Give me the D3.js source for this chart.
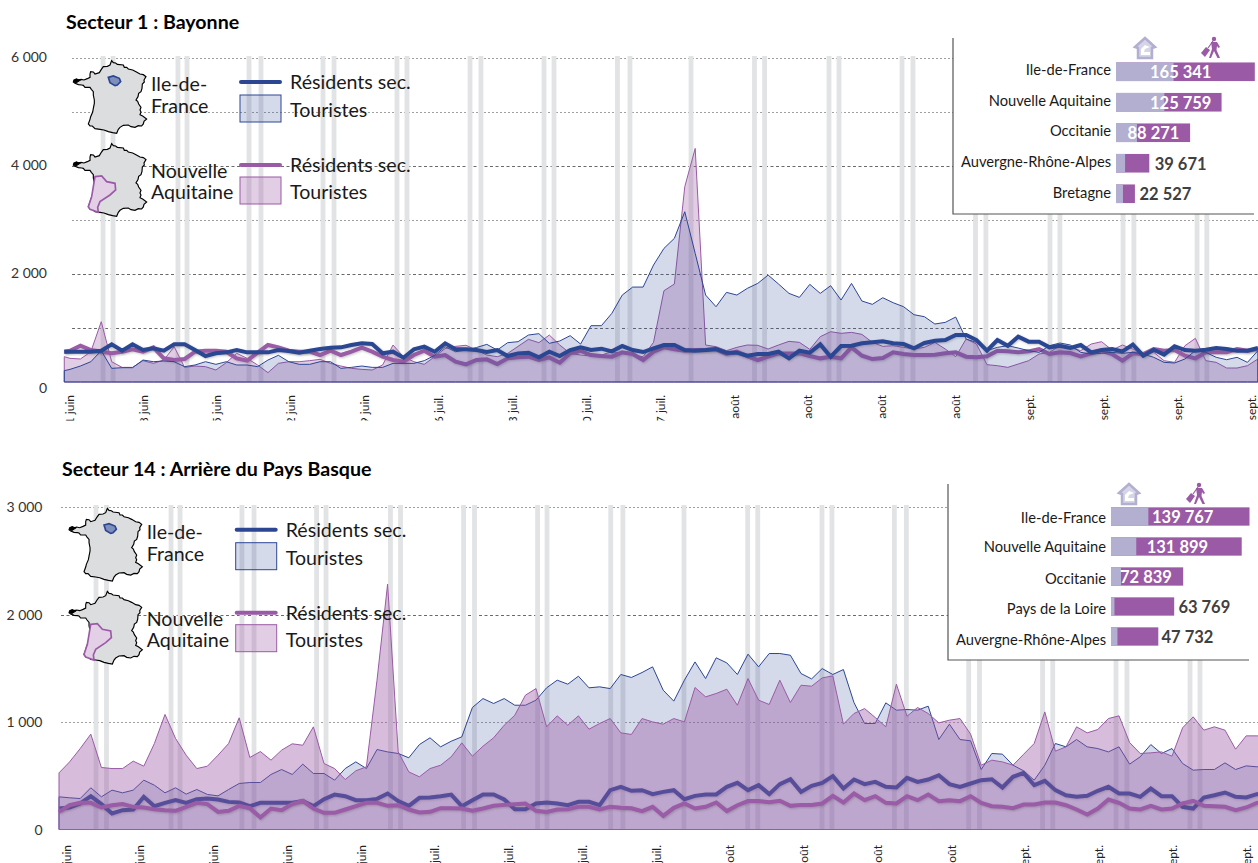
<!DOCTYPE html>
<html>
<head>
<meta charset="utf-8">
<script src="https://cdn.jsdelivr.net/npm/d3@7"></script>
<style>
  body { margin: 0; background: #fff; overflow: hidden; }
  text { font-family: Lato, "Open Sans", sans-serif; fill: #1a1a1a; }
  .tick-y text { font-size: 14px; fill: #333; }
  .tick-x text { font-size: 12px; fill: #222; }
</style>
</head>
<body>
<svg width="1258" height="863"></svg>
<script>
// Secteur 1 : Bayonne. First value is the partial day at the left edge of the plot
const touristesIdfBayonne = [210,
  234,296,376,580,253,265,265,407,376,389,
  376,284,315,376,327,376,315,315,284,407,
  494,376,327,327,376,376,253,271,296,271,
  271,345,345,345,395,494,654,561,592,638,
  697,592,728,747,870,895,716,759,858,703,
  1043,1043,1271,1610,1758,1758,2166,2474,2660,3153,
  2382,1610,1394,1660,1610,1734,1826,1980,1814,1641,
  1567,1808,1641,1783,1518,1826,1500,1438,1561,1468,
  1394,1246,1209,1074,1104,1203,796,734,580,642,
  672,629,580,549,672,722,685,549,518,531,
  549,531,549,518,457,364,352,426,580,549,
  457,413,457,364,580];
const residentsIdfBayonne = [561,
  561,561,561,580,697,580,697,592,623,580,
  697,697,592,481,531,549,592,549,549,549,
  592,574,543,580,611,635,642,685,716,703,
  531,561,450,605,654,561,716,605,605,592,
  555,592,481,530,543,456,561,481,592,642,
  592,617,568,666,592,555,623,685,685,592,
  580,592,611,543,543,487,518,518,561,438,
  580,543,697,469,666,672,716,734,753,716,
  703,623,722,765,777,870,870,777,580,777,
  672,839,747,747,642,672,629,685,549,592,
  611,568,691,487,598,506,660,592,580,598,
  629,611,580,580,629];
const touristesNaBayonne = [469,
  438,426,561,1117,376,271,271,395,345,407,
  654,271,296,284,222,358,531,438,315,173,
  345,376,376,395,420,345,296,253,234,222,
  315,685,469,376,327,469,620,660,680,592,
  500,469,530,660,790,728,870,685,530,500,
  481,500,561,530,500,469,734,1690,1814,3616,
  4325,685,654,580,642,685,679,611,685,753,
  734,605,839,932,901,919,882,734,660,672,
  642,611,642,734,611,469,796,703,321,302,
  271,333,395,518,549,672,642,580,703,747,
  592,685,611,518,549,395,364,672,808,395,
  364,259,259,302,426];
const residentsNaBayonne = [561,
  580,673,592,561,531,561,605,561,642,438,
  407,426,561,580,580,561,438,395,543,685,
  642,580,561,561,500,580,500,561,635,561,
  469,407,376,500,580,469,500,376,327,407,
  420,333,438,456,469,407,456,358,530,574,
  500,481,469,549,520,407,561,642,605,580,
  592,592,605,518,561,481,407,469,530,530,
  530,481,438,469,438,642,487,425,444,549,
  518,500,500,506,531,549,469,457,475,580,
  568,549,568,611,518,549,537,475,531,580,
  518,395,531,518,611,580,592,487,438,549,
  549,549,611,580,611];

// Secteur 14 : Arrière du Pays Basque
const touristesIdfBasque = [
  304,295,288,388,304,366,341,366,459,412,
  341,388,329,372,326,313,372,428,437,437,
  512,558,512,608,521,521,459,567,629,567,
  744,722,707,667,790,853,769,821,862,1135,
  1218,1172,1218,1156,1156,1203,1318,1389,1352,1426,
  1318,1327,1311,1442,1414,1460,1513,1296,1194,1389,
  1559,1404,1597,1550,1442,1631,1513,1637,1637,1621,
  1451,1401,1497,1442,1488,1180,986,986,1178,1110,
  1116,1110,1147,837,980,837,825,558,707,701,
  598,546,459,598,800,769,837,769,753,722,
  769,608,676,790,707,753,614,552,558,558,
  620,558,592,583,590];
const residentsIdfBasque = [
  195,205,242,310,236,149,180,186,304,217,
  248,273,248,282,288,279,257,251,217,248,
  248,248,248,264,217,282,325,310,273,273,
  285,335,264,220,295,298,310,325,217,273,
  326,326,279,189,189,242,251,242,226,257,
  257,226,366,397,360,366,329,350,366,282,
  313,326,326,397,434,366,412,329,422,468,
  350,406,434,496,381,465,422,443,397,391,
  480,443,465,505,422,397,428,459,468,391,
  490,527,412,453,366,319,304,313,360,397,
  335,335,304,381,310,310,211,195,298,319,
  344,304,298,329,335];
const touristesNaBasque = [
  527,629,753,887,577,567,567,636,589,800,
  1070,846,691,567,589,691,800,1039,670,725,
  645,738,797,784,955,614,567,465,546,583,
  1389,2282,722,536,490,567,598,676,806,682,
  775,853,970,1063,1249,1311,955,1057,970,1057,
  933,986,1032,899,884,1032,1001,980,1032,1001,
  1321,1234,1265,1305,1156,1404,1203,1163,1389,1181,
  1342,1333,1410,1429,980,1079,1125,1042,955,1352,
  1054,1135,1079,992,1017,1032,887,598,645,629,
  598,700,800,1094,729,769,955,899,930,1032,
  1057,809,707,713,722,682,946,1048,924,955,
  924,747,871,871,871];
const residentsNaBasque = [
  164,226,248,248,205,226,236,211,205,189,
  180,174,211,248,236,164,174,220,198,112,
  195,180,236,267,195,155,155,186,217,248,
  248,220,226,186,158,164,198,198,195,174,
  195,220,229,236,242,174,164,186,189,211,
  211,186,211,202,198,171,211,127,202,242,
  195,211,251,171,226,264,264,254,267,220,
  229,229,242,313,251,335,273,310,248,242,
  310,273,326,264,273,264,310,248,217,211,
  198,232,232,251,251,226,186,140,195,279,
  248,195,186,220,186,195,242,267,220,217,
  211,180,205,248,260];

// week-end columns, in days from the first date
const weekendsBayonne = [3.17,4.13,10.36,11.23,17.18,18.33,24.28,25.34,31.38,32.34,38.39,39.44,45.49,46.45,52.54,53.74,59.6,65.69,66.66,72.84,73.8,79.85,80.9,86.9,87.9,94.05,95,101.06,102.1,108.16,109.1];
const weekendsBasque = [3.49,4.48,10.57,11.42,17.26,18.4,24.3,25.19,31.27,32.22,38.17,39.2,45.15,46.04,52.05,53.2,58.96,64.97,65.92,71.98,72.92,78.81,79.94,85.82,86.84,92.79,93.75,99.72,100.75,106.7,107.64];

const dateLabels = ["1 juin","8 juin","15 juin","22 juin","29 juin","6 juil.","13 juil.","20 juil.","27 juil.","4 août","11 août","18 août","25 août","1 sept.","8 sept.","15 sept.","22 sept."];

const regionsBayonne = ["Ile-de-France","Nouvelle Aquitaine","Occitanie","Auvergne-Rhône-Alpes","Bretagne"];
const totalsBayonne = [165341,125759,88271,39671,22527];
const residentsShareBayonne = [68600,57600,25000,10800,8300];
const regionsBasque = ["Ile-de-France","Nouvelle Aquitaine","Occitanie","Pays de la Loire","Auvergne-Rhône-Alpes"];
const totalsBasque = [139767,131899,72839,63769,47732];
const residentsShareBasque = [37700,25500,10100,3500,6500];

const blue = "#2c4694", purple = "#9a5ba6", lightBar = "#b3afd1", darkBar = "#9a5aa5";
const fr = d3.formatLocale({decimal: ",", thousands: " ", grouping: [3], currency: ["", " €"]});
const fmt = fr.format(",");

const svg = d3.select("svg");
svg.append("rect").attr("width", 1258).attr("height", 863).attr("fill", "#fff");

const defs = svg.append("defs");
const shadow = defs.append("filter").attr("id", "shadow").attr("x", "-5%").attr("y", "-30%").attr("width", "110%").attr("height", "160%");
shadow.append("feDropShadow").attr("dx", 1).attr("dy", 1).attr("stdDeviation", 0.8).attr("flood-color", "#555").attr("flood-opacity", 0.35);
defs.append("clipPath").attr("id", "labelClip").append("rect").attr("x", 0).attr("y", 380).attr("width", 1258).attr("height", 40.5);

// rough outline of France, drawn for the little legend maps
const france = [[155,32],[160,38],[167,39],[172,43],[190,45],[193,52],[200,52],[205,57],[218,60],[228,65],[240,72],[250,74],[258,80],[252,90],[253,96],[247,102],[246,115],[243,125],[236,130],[234,140],[228,150],[233,154],[236,162],[243,172],[240,180],[243,186],[240,194],[248,198],[260,207],[252,214],[250,222],[245,228],[235,227],[225,232],[213,230],[205,225],[190,226],[180,232],[175,238],[170,250],[158,248],[145,245],[132,240],[120,238],[105,236],[97,228],[90,228],[85,222],[90,208],[92,200],[98,186],[100,175],[103,160],[103,150],[100,135],[100,125],[94,118],[90,112],[75,112],[70,106],[65,105],[55,104],[45,100],[40,96],[42,90],[50,87],[55,90],[63,88],[72,90],[82,86],[90,82],[90,72],[92,65],[100,66],[105,72],[118,68],[124,58],[130,50],[142,49],[150,45]];
const idfShape = [[145,82],[160,78],[178,85],[182,95],[172,105],[165,107],[150,98]];
const naShape = [[105,297],[125,295],[140,312],[165,317],[167,337],[150,352],[120,372],[113,389],[115,404],[90,395],[85,387],[95,357],[100,327]];
const brittanyTip = [[40,94],[48,88],[62,90],[48,99]];
const poly = d3.line().curve(d3.curveLinearClosed);

function drawLegend(dx, dy) {
  const g = svg.append("g").attr("transform", `translate(${dx},${dy})`);
  const maps = g.append("g").attr("transform", "translate(60,50) scale(0.3333)");
  [0, 249].forEach(shift => {
    const m = maps.append("g").attr("transform", `translate(0,${shift})`);
    m.append("path").attr("d", poly(france)).attr("fill", "#dcddde").attr("stroke", "#000").attr("stroke-width", 3.5);
    m.append("path").attr("d", poly(brittanyTip)).attr("fill", "#000").attr("stroke", "#000").attr("stroke-width", 3);
  });
  maps.append("path").attr("d", poly(idfShape)).attr("fill", "#7f8fbc").attr("stroke", blue).attr("stroke-width", 5);
  maps.append("path").attr("d", poly(naShape.map(p => [p[0], p[1] + 83]))).attr("fill", "#e3d0e6").attr("stroke", purple).attr("stroke-width", 5);

  const big = (x, y, t) => g.append("text").attr("x", x).attr("y", y).attr("dy", ".35em").style("font-size", "19.6px").text(t);
  big(151, 84, "Ile-de-");
  big(151, 106, "France");
  big(151, 171, "Nouvelle");
  big(151, 192, "Aquitaine");
  [[82, 109, blue, "rgba(44,70,148,0.2)"], [165, 191, purple, "rgba(154,91,166,0.3)"]].forEach(d => {
    g.append("line").attr("x1", 241).attr("x2", 280).attr("y1", d[0]).attr("y2", d[0])
      .attr("stroke", d[2]).attr("stroke-width", 4).attr("stroke-linecap", "round");
    g.append("rect").attr("x", 240).attr("y", d[1] - 14).attr("width", 41).attr("height", 27)
      .attr("fill", d[3]).attr("stroke", d[2]);
    big(290, d[0], "Résidents sec.");
    big(290, d[1] + 1, "Touristes");
  });
}

function drawHouse(g, cx, cy) {
  const h = g.append("g").attr("transform", `translate(${cx},${cy})`);
  h.append("path").attr("d", "M-10,-1 L0,-10 L10,-1 L7,0 L7,10 L-7,10 L-7,0 Z").attr("fill", "#d6d4e7").attr("stroke", lightBar).attr("stroke-width", 2.5);
  h.append("path").attr("d", "M-4,7 L-4,1 L0,-3 L5,-1 L0,1 L-1,4 L5,4 L5,7 Z").attr("fill", "#fff");
}

function drawWalker(g, cx, cy) {
  const w = g.append("g").attr("transform", `translate(${cx},${cy})`).attr("fill", darkBar);
  w.append("circle").attr("cx", 2).attr("cy", -9).attr("r", 2.2);
  w.append("path").attr("d", "M-1,-6 L5,-6 L8,-1 L6.5,0 L5,-2 L4.5,2 L8,10 L5.5,10 L2,3 L-1,10 L-3,10 L0,1 Z");
  w.append("path").attr("d", "M-11,5 L-6,-1 L-2,2 L-7,9 Z");
  w.append("path").attr("d", "M-4,0 L1,-7").attr("stroke", darkBar).attr("stroke-width", 1.2);
}

function drawInset(c) {
  const g = svg.append("g");
  g.append("rect").attr("x", c.left).attr("y", c.top).attr("width", 1258 - c.left).attr("height", c.bottom - c.top).attr("fill", "#fff");
  g.append("path").attr("d", `M${c.left},${c.top} V${c.bottom} H${c.right}`).attr("fill", "none").attr("stroke", "#555").attr("stroke-width", 1.2);

  const xBar = d3.scaleLinear().domain([0, c.totals[0]]).range([c.barX, c.barEnd]);
  const yBar = d3.scaleBand().domain(c.regions).range(c.bandRange).paddingInner(0.39).paddingOuter(0.195);

  g.selectAll(".total").data(c.regions).enter().append("rect")
    .attr("x", xBar(0)).attr("y", d => yBar(d)).attr("height", yBar.bandwidth())
    .attr("width", (d, i) => xBar(c.totals[i]) - xBar(0)).attr("fill", darkBar);
  g.selectAll(".share").data(c.regions).enter().append("rect")
    .attr("x", xBar(0)).attr("y", d => yBar(d)).attr("height", yBar.bandwidth())
    .attr("width", (d, i) => xBar(c.shares[i]) - xBar(0)).attr("fill", lightBar);

  g.selectAll(".region").data(c.regions).enter().append("text")
    .attr("x", c.barX - 5).attr("y", (d, i) => yBar(d) + yBar.bandwidth() / 2 + c.regionDy[i]).attr("dy", ".35em")
    .attr("text-anchor", "end").style("font-size", "14.7px").text(d => d);
  g.selectAll(".value").data(c.regions).enter().append("text")
    .attr("x", (d, i) => c.valueX[i]).attr("y", d => yBar(d) + yBar.bandwidth() / 2 + 0.5).attr("dy", ".35em")
    .style("font-size", "16.5px").style("font-weight", "700")
    .style("fill", (d, i) => i < 3 ? "#fff" : "#404040").text((d, i) => fmt(c.totals[i]));

  drawHouse(g, c.houseX, c.iconY);
  drawWalker(g, c.walkerX, c.iconY);
}

function drawPanel(c) {
  const x = d3.scaleLinear().domain([0, 1]).range([c.x0, c.x0 + c.step]);
  const y = d3.scaleLinear().domain([0, c.yMax]).range([c.y0, c.yTop]);
  const pts = (v) => v.map((d, i) => [c.days(i), d]);
  const area = d3.area().x(d => x(d[0])).y0(y(0)).y1(d => y(d[1]));
  const line = d3.line().x(d => x(d[0])).y(d => y(d[1]));

  svg.append("text").attr("x", c.titleX).attr("y", c.titleY).attr("dy", ".35em")
    .style("font-size", "19.6px").style("font-weight", "700").style("fill", "#000").text(c.title);

  // some grid lines are plainly darker in the original
  svg.append("g").selectAll("line").data(c.gridValues).enter().append("line")
    .attr("x1", c.x0 + 2).attr("x2", 1258).attr("y1", d => Math.round(y(d)) + 0.5).attr("y2", d => Math.round(y(d)) + 0.5)
    .attr("stroke", d => c.gridDark.includes(d) ? "#6a6a6a" : "#a0a0a0")
    .attr("stroke-dasharray", d => c.gridDark.includes(d) ? "3,2.5" : "2,2");

  svg.append("g").selectAll("rect").data(c.weekends).enter().append("rect")
    .attr("x", d => x(d) - 2.4).attr("width", 4.8).attr("y", c.yTop - 2).attr("height", y(0) - c.yTop + 2)
    .attr("fill", "#e2e3e5");

  c.layers.forEach(l => {
    if (l.area) {
      svg.append("path").attr("d", area(pts(l.values))).attr("fill", l.color).attr("fill-opacity", l.opacity)
        .attr("stroke", l.color).attr("stroke-width", 1);
    } else {
      svg.append("path").attr("d", line(pts(l.values))).attr("fill", "none").attr("stroke", l.color)
        .attr("stroke-width", 4).attr("stroke-linejoin", "miter").attr("filter", "url(#shadow)");
    }
  });

  const yAxis = svg.append("g").attr("class", "tick-y")
    .attr("transform", `translate(${c.yAxisX},0)`)
    .call(d3.axisLeft(y).tickValues(c.yTicks).tickFormat(fmt).tickSize(0).tickPadding(0));
  yAxis.select(".domain").remove();
  yAxis.selectAll("text").attr("dy", d => d === 0 ? c.zeroDy : c.tickDy);

  const xLabels = d3.scalePoint().domain(dateLabels).range(c.labelRange);
  const clipped = svg.append("g").attr("clip-path", c.labelClip);
  const xAxis = clipped.append("g").attr("class", "tick-x")
    .attr("transform", `translate(0,${c.labelY})`)
    .call(d3.axisBottom(xLabels).tickSize(0));
  xAxis.select(".domain").remove();
  xAxis.selectAll("text").attr("x", 0).attr("y", 0).attr("dy", ".35em")
    .attr("transform", "rotate(-90)").style("text-anchor", "end");
}

drawPanel({
  title: "Secteur 1 : Bayonne", titleX: 66, titleY: 22,
  x0: 70, step: 10.42, days: i => i === 0 ? -0.55 : i - 1,
  y0: 382, yTop: 58, yMax: 6000, gridValues: [1000,2000,3000,4000,5000,6000], gridDark: [1000,2000,4000],
  yTicks: [0,2000,4000,6000], yAxisX: 47, tickDy: ".22em", zeroDy: ".78em",
  weekends: weekendsBayonne, labelRange: [69, 1251], labelY: 395, labelClip: "url(#labelClip)",
  layers: [
    {values: touristesNaBayonne, color: purple, opacity: 0.3, area: true},
    {values: residentsNaBayonne, color: purple},
    {values: touristesIdfBayonne, color: blue, opacity: 0.2, area: true},
    {values: residentsIdfBayonne, color: blue}
  ]
});
drawLegend(0, 0);
drawInset({
  left: 953, top: 38, bottom: 214, right: 1254,
  regions: regionsBayonne, totals: totalsBayonne, shares: residentsShareBayonne,
  barX: 1116, barEnd: 1254.8, bandRange: [56.5, 209], regionDy: [-1.5,-1,-1.5,-1.5,-1],
  valueX: [1150, 1150, 1127.5, 1154.7, 1139.5], houseX: 1145, walkerX: 1212, iconY: 48
});

drawPanel({
  title: "Secteur 14 : Arrière du Pays Basque", titleX: 62, titleY: 469,
  x0: 59, step: 10.6, days: i => i,
  y0: 829.5, yTop: 507, yMax: 3000, gridValues: [1000,2000,3000], gridDark: [2000],
  yTicks: [0,1000,2000,3000], yAxisX: 42.5, tickDy: ".35em", zeroDy: ".35em",
  weekends: weekendsBasque, labelRange: [66, 1246], labelY: 845, labelClip: null,
  layers: [
    {values: touristesIdfBasque, color: blue, opacity: 0.2, area: true},
    {values: residentsIdfBasque, color: blue},
    {values: touristesNaBasque, color: purple, opacity: 0.4, area: true},
    {values: residentsNaBasque, color: purple}
  ]
});
drawLegend(-4.3, 447.7);
drawInset({
  left: 948, top: 484, bottom: 660, right: 1249,
  regions: regionsBasque, totals: totalsBasque, shares: residentsShareBasque,
  barX: 1111, barEnd: 1249.5, bandRange: [501.5, 651.5], regionDy: [1,0.5,2,2.5,3],
  valueX: [1152, 1146.7, 1120, 1178.4, 1161.5], houseX: 1129, walkerX: 1197, iconY: 494
});
</script>
</body>
</html>
